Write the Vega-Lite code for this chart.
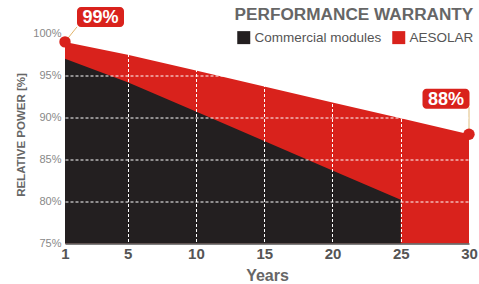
{
  "$schema": "https://vega.github.io/schema/vega-lite/v6.json",
  "autosize": "none",
  "width": 404,
  "height": 210,
  "padding": {"left": 65, "top": 33.5, "right": 10, "bottom": 40.5},
  "background": "white",
  "config": {"font": "Liberation Sans", "view": {"stroke": null}},
  "title": {"text": "PERFORMANCE WARRANTY", "anchor": "end", "fontSize": 17.2, "fontWeight": "bold", "color": "#666666", "offset": -16, "dx": -4},
  "datasets": {
    "series": [
      {"year": 1, "power": 99, "series": "AESOLAR"},
      {"year": 5, "power": 97.48, "series": "AESOLAR"},
      {"year": 10, "power": 95.59, "series": "AESOLAR"},
      {"year": 15, "power": 93.69, "series": "AESOLAR"},
      {"year": 20, "power": 91.79, "series": "AESOLAR"},
      {"year": 25, "power": 89.9, "series": "AESOLAR"},
      {"year": 30, "power": 88, "series": "AESOLAR"},
      {"year": 1, "power": 97, "series": "Commercial modules"},
      {"year": 5, "power": 94.2, "series": "Commercial modules"},
      {"year": 10, "power": 90.7, "series": "Commercial modules"},
      {"year": 15, "power": 87.2, "series": "Commercial modules"},
      {"year": 20, "power": 83.7, "series": "Commercial modules"},
      {"year": 25, "power": 80.2, "series": "Commercial modules"}
    ],
    "callouts": [
      {"year": 1, "power": 99, "label": "99%"},
      {"year": 30, "power": 88, "label": "88%"}
    ]
  },
  "encoding": {
    "x": {
      "field": "year", "type": "quantitative",
      "scale": {"domain": [1, 5, 30], "range": [0, 62.7, 404], "nice": false, "zero": false},
      "axis": {
        "values": [1, 5, 10, 15, 20, 25, 30],
        "title": "Years", "titleFontSize": 16, "titleFontWeight": "bold", "titleColor": "#666666", "titlePadding": 6,
        "labelFontSize": 15, "labelFontWeight": "bold", "labelColor": "#555555", "labelPadding": 3, "labelFlush": false,
        "ticks": false, "domain": true, "domainColor": "#555555", "domainWidth": 1.5,
        "grid": true, "gridColor": "white", "gridDash": [3, 2], "gridWidth": 1,
        "gridOpacity": {"condition": {"test": "datum.value == 1 || datum.value == 30", "value": 0}, "value": 1},
        "zindex": 1
      }
    },
    "y": {
      "field": "power", "type": "quantitative",
      "scale": {"domain": [75, 100], "nice": false, "zero": false},
      "axis": {
        "values": [75, 80, 85, 90, 95, 100],
        "labelExpr": "datum.value + '%'",
        "title": "RELATIVE POWER [%]", "titleFontSize": 11.5, "titleFontWeight": "bold", "titleColor": "#666666", "titlePadding": 6, "titleY": 101, "titleBaseline": "bottom",
        "labelFontSize": 11, "labelColor": "#888888", "labelPadding": 4,
        "ticks": false, "domain": false,
        "grid": true, "gridColor": "white", "gridDash": [3, 2], "gridWidth": 1,
        "gridOpacity": {"condition": {"test": "datum.value == 75 || datum.value == 100", "value": 0}, "value": 1},
        "zindex": 1
      }
    }
  },
  "layer": [
    {
      "data": {"name": "series"},
      "transform": [{"filter": "datum.series == 'AESOLAR'"}],
      "mark": {"type": "area", "opacity": 1},
      "encoding": {
        "y2": {"datum": 75},
        "color": {
          "field": "series", "type": "nominal",
          "scale": {"domain": ["Commercial modules", "AESOLAR"], "range": ["#231f20", "#d9221c"]},
          "legend": {
            "orient": "none", "legendX": 172, "legendY": -3, "direction": "horizontal", "title": null, "zindex": 2,
            "symbolType": "square", "symbolSize": 169, "symbolStrokeWidth": 0, "symbolOpacity": 1,
            "labelFontSize": 13.5, "labelColor": "#555555", "labelOffset": 4, "columnPadding": 10, "padding": 0
          }
        }
      }
    },
    {
      "data": {"name": "series"},
      "transform": [{"filter": "datum.series == 'Commercial modules'"}],
      "mark": {"type": "area", "opacity": 1},
      "encoding": {
        "y2": {"datum": 75},
        "color": {"field": "series", "type": "nominal"}
      }
    },
    {
      "data": {"name": "callouts"},
      "transform": [{"filter": "datum.year == 1"}],
      "mark": {"type": "rule", "color": "#e2b46a", "strokeWidth": 1, "x2Offset": 12, "y2Offset": -15},
      "encoding": {"x2": {"field": "year"}, "y2": {"field": "power"}}
    },
    {
      "data": {"name": "callouts"},
      "transform": [{"filter": "datum.year == 30"}],
      "mark": {"type": "rule", "color": "#ead3a8", "strokeWidth": 1.5, "y2Offset": -27},
      "encoding": {"x2": {"field": "year"}, "y2": {"field": "power"}}
    },
    {
      "data": {"name": "callouts"},
      "mark": {"type": "circle", "color": "#d9221c", "opacity": 1, "size": 130},
      "encoding": {}
    },
    {
      "data": {"name": "callouts"},
      "transform": [{"filter": "datum.year == 1"}],
      "mark": {"type": "rect", "color": "#d9221c", "width": 47, "height": 20, "cornerRadius": 4, "xOffset": 35.5, "yOffset": -25},
      "encoding": {}
    },
    {
      "data": {"name": "callouts"},
      "transform": [{"filter": "datum.year == 30"}],
      "mark": {"type": "rect", "color": "#d9221c", "width": 47, "height": 20, "cornerRadius": 4, "xOffset": -23, "yOffset": -35.5},
      "encoding": {}
    },
    {
      "data": {"name": "callouts"},
      "transform": [{"filter": "datum.year == 1"}],
      "mark": {"type": "text", "color": "white", "fontSize": 18, "fontWeight": "bold", "baseline": "middle", "align": "center", "dx": 35.5, "dy": -24},
      "encoding": {"text": {"field": "label"}}
    },
    {
      "data": {"name": "callouts"},
      "transform": [{"filter": "datum.year == 30"}],
      "mark": {"type": "text", "color": "white", "fontSize": 18, "fontWeight": "bold", "baseline": "middle", "align": "center", "dx": -23, "dy": -34.5},
      "encoding": {"text": {"field": "label"}}
    }
  ]
}
